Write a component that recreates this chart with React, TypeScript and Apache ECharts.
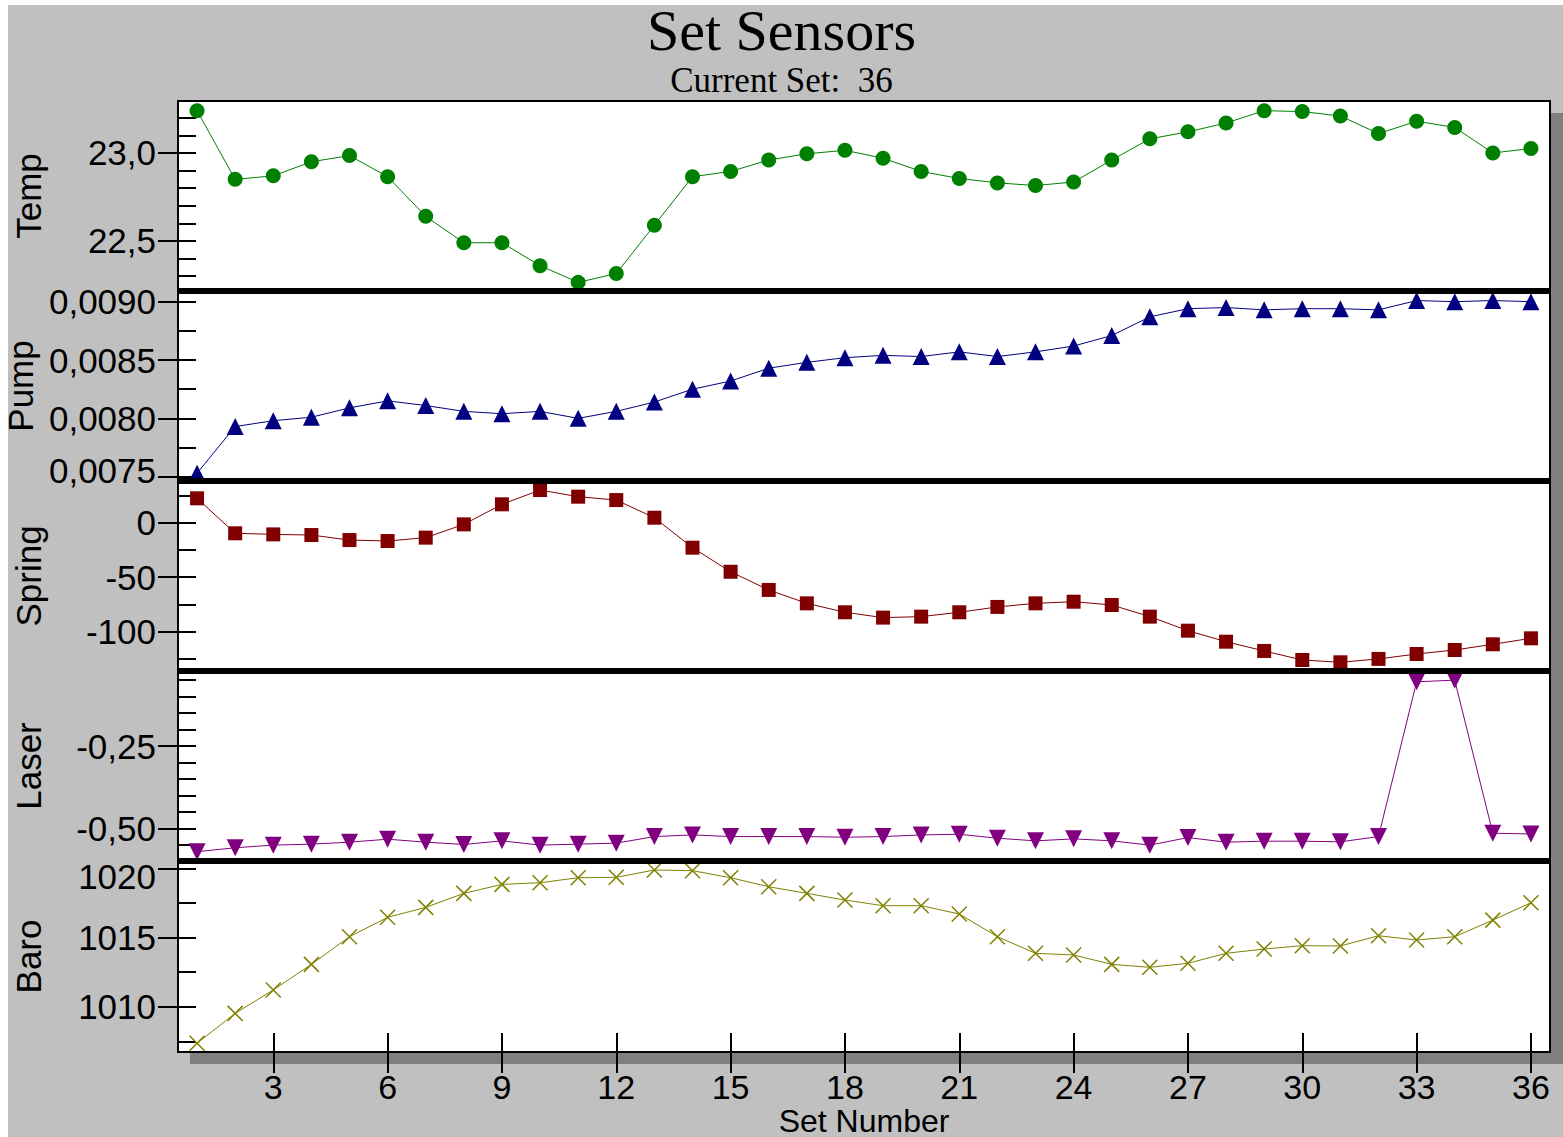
import React, { useEffect, useRef } from "react";
import * as echarts from "echarts";

const setNumbers = [1, 2, 3, 4, 5, 6, 7, 8, 9, 10, 11, 12, 13, 14, 15, 16, 17, 18, 19, 20, 21, 22, 23, 24, 25, 26, 27, 28, 29, 30, 31, 32, 33, 34, 35, 36];

const tempValues = [23.24, 22.85, 22.87, 22.95, 22.985, 22.865, 22.64, 22.49, 22.49, 22.36, 22.265, 22.315, 22.59, 22.865, 22.895, 22.96, 22.995, 23.015, 22.97, 22.895, 22.855, 22.83, 22.815, 22.835, 22.96, 23.08, 23.12, 23.17, 23.24, 23.235, 23.21, 23.11, 23.18, 23.145, 23.0, 23.025];
const pumpValues = [0.00753, 0.00793, 0.00798, 0.00801, 0.00809, 0.00815, 0.00811, 0.00806, 0.00804, 0.00806, 0.008, 0.00806, 0.00814, 0.00825, 0.00832, 0.00843, 0.00848, 0.00852, 0.00854, 0.00853, 0.00857, 0.00853, 0.00857, 0.00862, 0.00871, 0.00887, 0.00894, 0.00895, 0.00893, 0.00894, 0.00894, 0.00893, 0.00901, 0.009, 0.00901, 0.009];
const springValues = [22.4, -9.7, -10.7, -11.3, -15.9, -16.8, -13.7, -1.5, 16.9, 30.0, 23.9, 20.8, 4.6, -22.9, -45.0, -61.7, -74.0, -82.2, -87.1, -86.2, -82.2, -77.3, -74.0, -72.5, -75.5, -86.2, -99.1, -109.2, -117.7, -126.0, -128.1, -125.0, -120.5, -116.8, -111.6, -106.1];
const laserValues = [-0.571, -0.559, -0.551, -0.548, -0.542, -0.533, -0.542, -0.549, -0.538, -0.551, -0.548, -0.545, -0.525, -0.52, -0.525, -0.525, -0.525, -0.527, -0.525, -0.52, -0.518, -0.53, -0.538, -0.532, -0.538, -0.551, -0.528, -0.542, -0.539, -0.539, -0.541, -0.525, -0.055, -0.05, -0.515, -0.517];
const baroValues = [1007.36, 1009.52, 1011.21, 1013.06, 1015.06, 1016.46, 1017.18, 1018.19, 1018.84, 1018.96, 1019.32, 1019.35, 1019.88, 1019.83, 1019.32, 1018.67, 1018.19, 1017.71, 1017.3, 1017.3, 1016.7, 1015.06, 1013.86, 1013.74, 1013.06, 1012.85, 1013.14, 1013.86, 1014.17, 1014.41, 1014.39, 1015.13, 1014.82, 1015.06, 1016.26, 1017.51];

const xTickValues = [3, 6, 9, 12, 15, 18, 21, 24, 27, 30, 33, 36];

const tempTicks = [22.3, 22.4, 22.5, 22.6, 22.7, 22.8, 22.9, 23.0, 23.1, 23.2];
const tempLabels = [22.5, 23.0];
const pumpTicks = [0.0075, 0.00775, 0.008, 0.00825, 0.0085, 0.00875, 0.009];
const pumpLabels = [0.0075, 0.008, 0.0085, 0.009];
const springTicks = [-125, -100, -75, -50, -25, 0, 25];
const springLabels = [-100, -50, 0];
const laserTicks = [-0.55, -0.5, -0.45, -0.4, -0.35, -0.3, -0.25, -0.2, -0.15, -0.1, -0.05];
const laserLabels = [-0.5, -0.25];
const baroTicks = [1007.5, 1010, 1012.5, 1015, 1017.5, 1020];
const baroLabels = [1010, 1015, 1020];

const FONT = "Liberation Sans";

export default function App() {
  const ref = useRef<HTMLDivElement>(null);

  useEffect(() => {
    if (!ref.current) return;
    const chart = echarts.init(ref.current, null, { renderer: "svg" });

    const panelTops = [101, 291, 481, 671, 861];
    const panelHeights = [190, 190, 190, 190, 191];

    const panels = [
      { name: "Temp", values: tempValues, ticks: tempTicks, labels: tempLabels, min: 22.216, max: 23.295, color: "#008000", symbol: "circle", size: 15, rotate: 0, fmt: (v: number) => v.toFixed(1).replace(".", ",") },
      { name: "Pump", values: pumpValues, ticks: pumpTicks, labels: pumpLabels, min: 0.0074632, max: 0.0090917, color: "#000080", symbol: "triangle", size: 17, rotate: 0, fmt: (v: number) => { const s = v.toFixed(4).replace(".", ","); return v < 0.0076 ? "{up|" + s + "}" : s; } },
      { name: "Spring", values: springValues, ticks: springTicks, labels: springLabels, min: -136.1, max: 38.3, color: "#800000", symbol: "rect", size: 14, rotate: 0, fmt: (v: number) => String(Math.round(v)) },
      { name: "Laser", values: laserValues, ticks: laserTicks, labels: laserLabels, min: -0.5992, max: -0.0222, color: "#800080", symbol: "triangle", size: 17, rotate: 180, fmt: (v: number) => v.toFixed(2).replace(".", ",") },
      { name: "Baro", values: baroValues, ticks: baroTicks, labels: baroLabels, min: 1006.73, max: 1020.53, color: "#808000", symbol: "path://M0 0L10 10M10 0L0 10", size: 15, rotate: 0, fmt: (v: number) => { const s = String(Math.round(v)); return v > 1019 ? "{down|" + s + "}" : s; } },
    ];

    const tickLine = { color: "#000", width: 2 };

    const grids = panels.map((_, i) => ({
      left: 178,
      right: 13,
      top: panelTops[i],
      height: panelHeights[i],
      show: false,
      containLabel: false,
      outerBoundsMode: "none",
    }));

    const xAxes: any[] = [];
    for (let i = 0; i < 4; i++) {
      xAxes.push({ type: "value", gridIndex: i, min: 0.5, max: 36.5, show: false, axisLine: { onZero: false } });
    }
    xAxes.push({
      type: "value", gridIndex: 4, min: 0.5, max: 36.5, position: "bottom",
      axisLine: { show: false, onZero: false },
      axisTick: { show: true, inside: true, length: 19, customValues: xTickValues, lineStyle: tickLine },
      axisLabel: { show: false },
      splitLine: { show: false },
    });
    xAxes.push({
      type: "value", gridIndex: 4, min: 0.5, max: 36.5, position: "bottom",
      axisLine: { show: false, onZero: false },
      axisTick: { show: true, inside: false, length: 21, customValues: xTickValues, lineStyle: tickLine },
      axisLabel: { show: true, customValues: xTickValues, margin: 18, fontSize: 34, color: "#000", fontFamily: FONT },
      splitLine: { show: false },
      name: "Set Number",
      nameLocation: "middle",
      nameGap: 35,
      nameTextStyle: { fontSize: 32, lineHeight: 32, color: "#000", fontFamily: FONT },
    });

    const yAxes: any[] = [];
    panels.forEach((p, i) => {
      yAxes.push({
        type: "value", gridIndex: i, min: p.min, max: p.max, position: "left",
        axisLine: { show: false, onZero: false },
        axisTick: { show: true, inside: true, length: 18, customValues: p.ticks, lineStyle: tickLine },
        axisLabel: { show: false },
        splitLine: { show: false },
      });
      yAxes.push({
        type: "value", gridIndex: i, min: p.min, max: p.max, position: "left",
        axisLine: { show: false, onZero: false },
        axisTick: { show: true, inside: false, length: 20, customValues: p.labels, lineStyle: tickLine },
        axisLabel: {
          show: true, customValues: p.labels, formatter: p.fmt, margin: 22, fontSize: 35, color: "#000", fontFamily: FONT,
          rich: {
            up: { fontSize: 35, fontFamily: FONT, color: "#000", padding: [0, 0, 12, 0] },
            down: { fontSize: 35, fontFamily: FONT, color: "#000", padding: [16, 0, 0, 0] },
          },
        },
        splitLine: { show: false },
        name: p.name,
        nameLocation: "middle",
        nameRotate: 90,
        nameGap: 132,
        nameTextStyle: { fontSize: 35, color: "#000", fontFamily: FONT },
      });
    });

    const series = panels.map((p, i) => ({
      type: "line",
      name: p.name,
      xAxisIndex: i,
      yAxisIndex: i * 2,
      data: setNumbers.map((x, k) => [x, p.values[k]]),
      symbol: p.symbol,
      symbolSize: p.size,
      symbolRotate: p.rotate,
      showAllSymbol: true,
      lineStyle: { color: p.color, width: 1 },
      itemStyle: i === 4
        ? { color: p.color, borderColor: p.color, borderWidth: 1.5 }
        : { color: p.color, borderWidth: 0 },
      emphasis: { disabled: true },
      z: 3,
    }));

    const separators = [288, 478, 668, 858].map((y) => ({
      type: "rect",
      z: 100,
      shape: { x: 178, y, width: 1372, height: 6 },
      style: { fill: "#000" },
      silent: true,
    }));

    chart.setOption({
      animation: false,
      backgroundColor: "#ffffff",
      title: [
        {
          text: "Set Sensors",
          left: 785 - 138,
          top: 5,
          padding: 0,
          textStyle: { fontFamily: "Liberation Serif", fontSize: 58, lineHeight: 50, fontWeight: "normal", color: "#000" },
        },
        {
          text: "Current Set:  36",
          left: "center",
          top: 65,
          padding: 0,
          textStyle: { fontFamily: "Liberation Serif", fontSize: 35, lineHeight: 30, fontWeight: "normal", color: "#000" },
        },
      ],
      grid: grids,
      xAxis: xAxes,
      yAxis: yAxes,
      series,
      graphic: [
        { type: "rect", z: -12, shape: { x: 8, y: 5, width: 1555, height: 1132 }, style: { fill: "#c0c0c0" }, silent: true },
        { type: "rect", z: -11, shape: { x: 190, y: 113, width: 1373, height: 951 }, style: { fill: "#808080" }, silent: true },
        { type: "rect", z: -10, shape: { x: 178, y: 101, width: 1372, height: 951 }, style: { fill: "#ffffff" }, silent: true },
        ...separators,
        { type: "rect", z: 100, shape: { x: 178, y: 101, width: 1372, height: 951 }, style: { fill: "none", stroke: "#000", lineWidth: 2 }, silent: true },
      ],
    });

    return () => chart.dispose();
  }, []);

  return (
    <div
      ref={ref}
      style={{ position: "fixed", left: 0, top: 0, width: 1563, height: 1137 }}
    />
  );
}
